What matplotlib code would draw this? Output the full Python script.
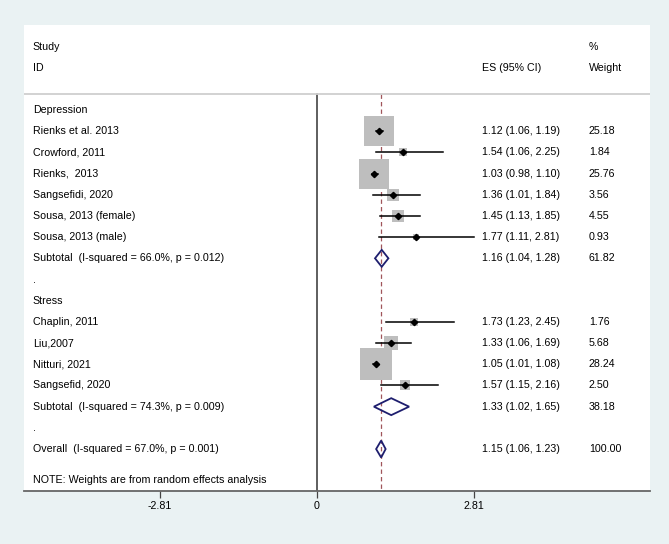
import matplotlib.pyplot as plt
from matplotlib.patches import Polygon
import numpy as np

plt.rcParams['font.family'] = ['Liberation Sans', 'DejaVu Sans']

# rows: 0 = Depression header ... 16 = Overall
study_labels = ['Rienks et al. 2013', 'Crowford, 2011', 'Rienks,  2013', 'Sangsefidi, 2020',
                'Sousa, 2013 (female)', 'Sousa, 2013 (male)',
                'Chaplin, 2011', 'Liu,2007', 'Nitturi, 2021', 'Sangsefid, 2020']
study_rows = [1, 2, 3, 4, 5, 6, 10, 11, 12, 13]
es = [1.12, 1.54, 1.03, 1.36, 1.45, 1.77, 1.73, 1.33, 1.05, 1.57]
lo = [1.06, 1.06, 0.98, 1.01, 1.13, 1.11, 1.23, 1.06, 1.01, 1.15]
hi = [1.19, 2.25, 1.10, 1.84, 1.85, 2.81, 2.45, 1.69, 1.08, 2.16]
weight = [25.18, 1.84, 25.76, 3.56, 4.55, 0.93, 1.76, 5.68, 28.24, 2.50]

pool_labels = ['Subtotal  (I-squared = 66.0%, p = 0.012)',
               'Subtotal  (I-squared = 74.3%, p = 0.009)',
               'Overall  (I-squared = 67.0%, p = 0.001)']
pool_rows = [7, 14, 16]
pool_es = [1.16, 1.33, 1.15]
pool_lo = [1.04, 1.02, 1.06]
pool_hi = [1.28, 1.65, 1.23]
pool_weight = ['61.82', '38.18', '100.00']

group_labels = ['Depression', '.', 'Stress', '.']
group_rows = [0, 8, 9, 15]

ticks = [-2.81, 0, 2.81]

fig = plt.figure(figsize=(6.69, 5.44), dpi=100, facecolor='#eaf2f3')
ax = fig.add_axes([24/669, 1 - 491/544, 626/669, 466/544])
ax.set_facecolor('white')
ax.set_xlim(-5.24, 5.96)
ax.set_ylim(17.98, -4.01)

fs = 7.7
x_text = -5.08
x_es = 2.952
x_wt = 4.866

# header
ax.text(x_text, -2.97, 'Study', fontsize=fs, va='center')
ax.text(x_text, -1.98, 'ID', fontsize=fs, va='center')
ax.text(x_es, -1.98, 'ES (95% CI)', fontsize=fs, va='center')
ax.text(x_wt, -2.97, '%', fontsize=fs, va='center')
ax.text(x_wt, -1.98, 'Weight', fontsize=fs, va='center')
ax.axhline(-0.755, color='#cfcfcf', lw=1.3)

# reference lines
ax.plot([0, 0], [-0.755, 17.98], color='#333333', lw=1.1, zorder=1)
ax.plot([pool_es[2], pool_es[2]], [-0.755, 17.98], color='#a0555a', lw=0.9,
        dashes=(3.5, 2.5), zorder=1)

for lab, r in zip(group_labels, group_rows):
    ax.text(x_text, r, lab, fontsize=fs, va='center')

# studies
for lab, r, e, l, h, w in zip(study_labels, study_rows, es, lo, hi, weight):
    ax.text(x_text, r, lab, fontsize=fs, va='center')
    ax.scatter(e, r, s=w * 18.7, marker='s', color='#bebebe', lw=0, zorder=2)
    ax.plot([l, h], [r, r], color='black', lw=1.1, zorder=3)
    ax.plot(e, r, marker='D', color='black', ms=3.2, zorder=4)
    ax.text(x_es, r, f'{e:.2f} ({l:.2f}, {h:.2f})', fontsize=fs, va='center')
    ax.text(x_wt, r, f'{w:.2f}', fontsize=fs, va='center')

# pooled diamonds
for lab, r, e, l, h, w in zip(pool_labels, pool_rows, pool_es, pool_lo, pool_hi, pool_weight):
    ax.text(x_text, r, lab, fontsize=fs, va='center')
    d = Polygon([[l, r], [e, r - 0.4], [h, r], [e, r + 0.4]], closed=True,
                fill=False, edgecolor='#1e1e6e', lw=1.3, zorder=4)
    ax.add_patch(d)
    ax.text(x_es, r, f'{e:.2f} ({l:.2f}, {h:.2f})', fontsize=fs, va='center')
    ax.text(x_wt, r, w, fontsize=fs, va='center')

ax.text(x_text, 17.45, 'NOTE: Weights are from random effects analysis', fontsize=fs, va='center')

for s in ['top', 'left', 'right']:
    ax.spines[s].set_visible(False)
ax.spines['bottom'].set_color('#666666')
ax.spines['bottom'].set_linewidth(1.3)
ax.set_yticks([])
ax.set_xticks(ticks)
ax.set_xticklabels(['-2.81', '0', '2.81'])
ax.tick_params(axis='x', length=5, width=0.9, color='#444444', labelsize=fs, pad=2)

fig.savefig('out.png', dpi=100, facecolor=fig.get_facecolor())
